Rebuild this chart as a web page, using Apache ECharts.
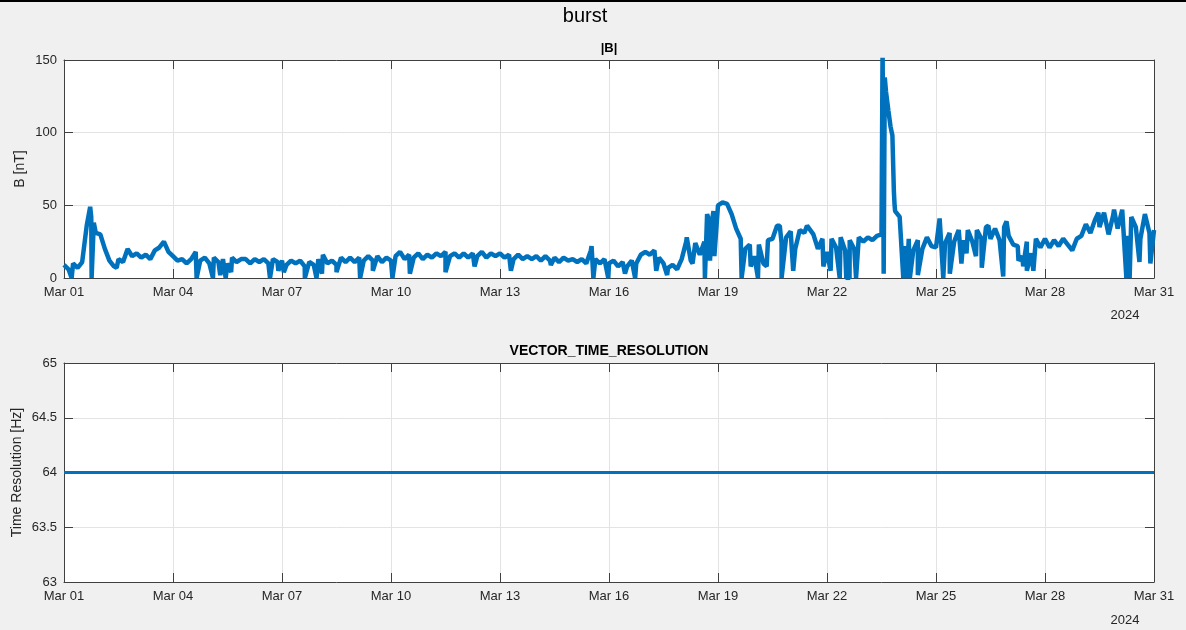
<!DOCTYPE html>
<html>
<head>
<meta charset="utf-8">
<title>burst</title>
<script src="https://cdn.jsdelivr.net/npm/echarts@6/dist/echarts.min.js"></script>
<style>
  html, body { margin: 0; padding: 0; background: #f0f0f0; }
  #main { width: 1186px; height: 630px; }
</style>
</head>
<body>
<div id="main"></div>
<script>
// |B| in nT, days since Mar 01 2024, one sample every 3 hours
let bStep = 0.125
let bBase = [
  9, 6, 10, 7, 11, 36, 42, 31,
  30, 20, 12, 8, 13, 11, 20, 15,
  17, 14, 16, 13, 19, 21, 25, 18,
  15, 12, 13, 10, 13, 18, 12, 14,
  10, 14, 11, 13, 10, 14, 11, 13,
  13, 10, 13, 11, 13, 10, 13, 11,
  12, 9, 12, 10, 12, 8, 11, 9,
  13, 16, 10, 12, 9, 14, 11, 14,
  11, 14, 12, 15, 12, 15, 11, 14,
  12, 15, 18, 13, 16, 14, 17, 13,
  16, 14, 17, 15, 18, 15, 17, 14,
  17, 14, 17, 15, 18, 14, 17, 15,
  17, 14, 16, 13, 16, 13, 15, 13,
  15, 12, 15, 12, 14, 11, 14, 12,
  13, 11, 13, 10, 19, 13, 10, 13,
  10, 12, 8, 11, 8, 12, 10, 16,
  18, 16, 19, 14, 10, 7, 9, 6,
  13, 25, 12, 24, 16, 25, 40, 46,
  50, 52, 51, 44, 34, 27, 20, 23,
  15, 23, 10, 26, 27, 36, 24, 28,
  32, 20, 33, 31, 35, 30, 20, 27,
  18, 27, 21, 28, 19, 26, 20, 28,
  25, 28, 26, 29, 30, 128, 104, 46,
  42, 22, 27, 19, 26, 20, 28, 22,
  21, 31, 24, 31, 25, 33, 26, 33,
  25, 33, 27, 35, 27, 34, 26, 35,
  29, 23, 22, 15, 25, 17, 27, 21,
  27, 21, 26, 22, 27, 23, 19, 27,
  29, 37, 31, 40, 35, 45, 30, 43,
  34, 47, 29, 42, 35, 27, 44, 31,
  33
]
// short dips and spikes between the samples: [day, nT]
let bEvents = [
  [0.21, 0], [0.4, 6], [0.72, 49], [0.76, 0], [0.82, 38], [1.45, 7],
  [3.65, 0], [4.1, 0], [4.3, 2], [4.45, 0], [4.6, 4], [5.67, 0], [5.9, 5],
  [6.05, 4], [6.63, 0], [6.95, 0], [7.1, 3], [7.5, 4], [8.15, 0], [8.5, 5],
  [9.04, 0], [9.52, 3], [10.5, 4], [11.3, 8], [12.3, 5], [13.4, 9],
  [14.52, 22], [14.57, 0], [14.98, 0], [15.44, 3], [15.72, 0], [16.3, 5],
  [16.6, 2], [17.14, 28], [17.3, 10], [17.64, 0], [17.7, 44], [17.78, 12],
  [17.84, 40], [17.9, 15], [18.65, 0], [18.9, 8], [19.1, 0], [19.34, 8],
  [19.7, 36], [19.75, 0], [20.07, 5], [20.45, 36], [20.9, 8], [21.1, 5],
  [21.35, 0], [21.53, 0], [21.62, 0], [21.8, 0],
  [22.53, 160], [22.56, 3], [22.59, 138], [22.69, 115], [22.8, 98], [22.84, 60], [22.86, 50],
  [23.1, 0], [23.2, 0], [23.28, 0], [23.5, 2], [24.1, 41], [24.2, 0],
  [24.38, 3], [24.7, 10], [24.84, 17], [25.1, 15], [25.26, 7], [25.44, 36],
  [25.85, 1], [25.94, 39], [26.27, 12], [26.4, 8], [26.5, 5], [26.68, 5],
  [28.47, 45], [28.9, 47], [29.24, 0], [29.33, 0], [29.6, 11], [29.9, 10]
]
// VECTOR_TIME_RESOLUTION in Hz
let resDays = [0, 30]
let resValues = [64, 64]

let xTickLabels = ['Mar 01', 'Mar 04', 'Mar 07', 'Mar 10', 'Mar 13', 'Mar 16',
  'Mar 19', 'Mar 22', 'Mar 25', 'Mar 28', 'Mar 31']
let yearLabel = '2024'

let bData = bBase.map((v, i) => [i * bStep, v]).concat(bEvents)
bData.sort((a, b) => a[0] - b[0])
let resData = resDays.map((d, i) => [d, resValues[i]])

let axisColor = '#404040'
let textColor = '#262626'
let gridColor = '#e3e3e3'

function xAxisFor(grid, pos) {
  let bottom = pos === 'bottom'
  return {
    type: 'value', gridIndex: grid, position: pos,
    min: 0, max: 30, interval: 3,
    axisLine: { show: true, onZero: false, lineStyle: { color: axisColor } },
    axisTick: { show: true, inside: true, length: 9, lineStyle: { color: axisColor } },
    axisLabel: {
      show: bottom, margin: 8, color: textColor, fontSize: 13,
      formatter: v => xTickLabels[Math.round(v / 3)]
    },
    splitLine: { show: bottom, lineStyle: { color: gridColor } }
  }
}

function yAxisFor(grid, pos, min, max, step, name, gap) {
  let left = pos === 'left'
  return {
    type: 'value', gridIndex: grid, position: pos,
    min: min, max: max, interval: step,
    name: left ? name : '', nameLocation: 'middle', nameGap: gap || 0,
    nameMoveOverlap: false,
    nameTextStyle: { color: textColor, fontSize: 14 },
    axisLine: { show: true, onZero: false, lineStyle: { color: axisColor } },
    axisTick: { show: true, inside: true, length: 9, lineStyle: { color: axisColor } },
    axisLabel: { show: left, inside: false, margin: 7, color: textColor, fontSize: 13 },
    splitLine: { show: left, lineStyle: { color: gridColor } }
  }
}

let option = {
  backgroundColor: '#f0f0f0',
  animation: false,
  textStyle: { fontFamily: 'Liberation Sans, Arial, sans-serif' },
  title: [
    { text: 'burst', left: 585, top: 6, textAlign: 'center', padding: 0,
      textStyle: { fontSize: 20, fontWeight: 'normal', color: '#000' } },
    { text: '|B|', left: 609, top: 42, textAlign: 'center', padding: 0,
      textStyle: { fontSize: 13, fontWeight: 'bold', color: '#000' } },
    { text: 'VECTOR_TIME_RESOLUTION', left: 609, top: 344, textAlign: 'center', padding: 0,
      textStyle: { fontSize: 14, fontWeight: 'bold', color: '#000' } }
  ],
  grid: [
    { left: 64, top: 60, width: 1090, height: 218, show: true, backgroundColor: '#fff', borderWidth: 0 },
    { left: 64, top: 363, width: 1090, height: 219, show: true, backgroundColor: '#fff', borderWidth: 0 }
  ],
  xAxis: [
    xAxisFor(0, 'bottom'), xAxisFor(0, 'top'),
    xAxisFor(1, 'bottom'), xAxisFor(1, 'top')
  ],
  yAxis: [
    yAxisFor(0, 'left', 0, 150, 50, 'B [nT]', 37), yAxisFor(0, 'right', 0, 150, 50, ''),
    yAxisFor(1, 'left', 63, 65, 0.5, 'Time Resolution [Hz]', 40), yAxisFor(1, 'right', 63, 65, 0.5, '')
  ],
  graphic: [
    { type: 'rect', shape: { x: 0, y: 0, width: 1186, height: 2 }, style: { fill: '#000' } },
    { type: 'text', x: 1125, y: 315, style: { text: yearLabel, fill: textColor, font: '13px Liberation Sans', textAlign: 'center', textVerticalAlign: 'middle' } },
    { type: 'text', x: 1125, y: 620, style: { text: yearLabel, fill: textColor, font: '13px Liberation Sans', textAlign: 'center', textVerticalAlign: 'middle' } }
  ],
  series: [
    {
      name: '|B|', type: 'line', xAxisIndex: 0, yAxisIndex: 0,
      data: bData, showSymbol: false, clip: true,
      lineStyle: { color: '#0072BD', width: 4.5 }
    },
    {
      name: 'VECTOR_TIME_RESOLUTION', type: 'line', xAxisIndex: 2, yAxisIndex: 2,
      data: resData, showSymbol: false,
      lineStyle: { color: '#0072BD', width: 3 }
    }
  ]
}

let myChart = echarts.init(document.getElementById('main'))
myChart.setOption(option)
</script>
</body>
</html>
